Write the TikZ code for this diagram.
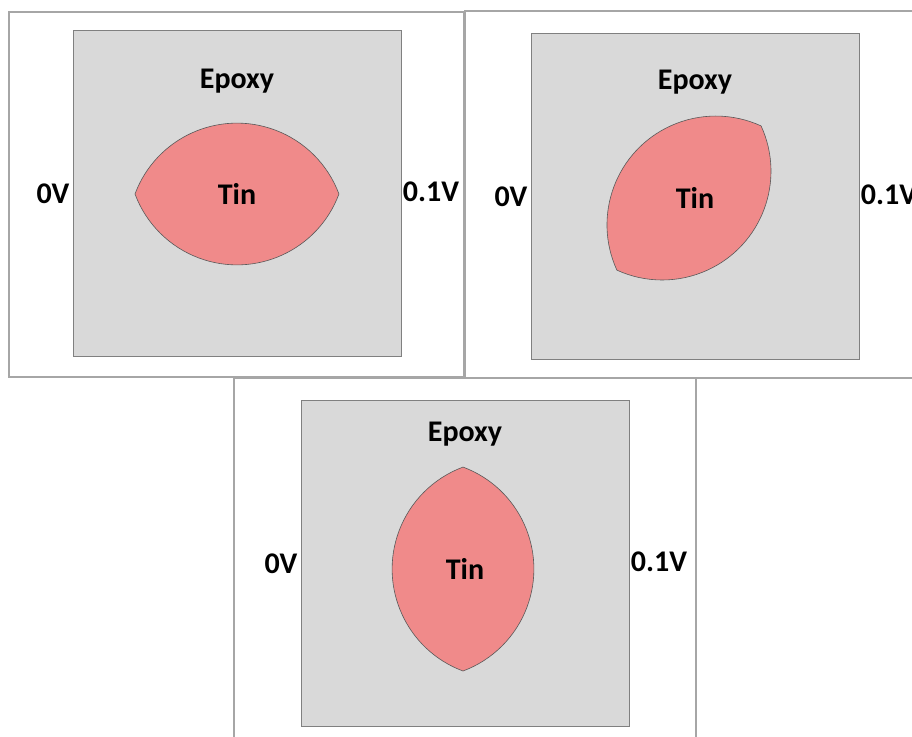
\documentclass[tikz,border=0pt]{standalone}
\usepackage{fontspec}
\setmainfont{Carlito}
\usetikzlibrary{positioning}

\definecolor{epoxygray}{RGB}{217,217,217}
\definecolor{tinred}{RGB}{240,138,138}
\definecolor{framegray}{RGB}{166,166,166}
\definecolor{edgegray}{RGB}{128,128,128}

% lens made of two circular arcs, centred at the origin
\newcommand{\lensshape}{(-102,0) arc[start angle=200.4, end angle=339.6, radius=108.8] arc[start angle=20.4, end angle=159.6, radius=108.8] -- cycle}

\begin{document}
\begin{tikzpicture}[x=1pt, y=-1pt,
	panelbox/.style={draw=framegray, line width=1.5pt},
	epoxybox/.style={draw=edgegray, fill=epoxygray, line width=0.8pt},
	tinbody/.style={draw=black!65, fill=tinred, line width=0.6pt},
	lbl/.style={font=\bfseries\fontsize{30}{32}\selectfont, inner sep=0pt}]
		\useasboundingbox (0,0) rectangle (912,736);
		\clip (0,0) rectangle (912,736);
		\fill[white] (0,0) rectangle (912,736);
		% outer frames
		\draw[panelbox] (9,12) rectangle (464,377);
		\draw[panelbox] (465,11) rectangle (920,378);
		\draw[panelbox] (234,378) rectangle (696,745);
		% square centre / epoxy label / lens centre / lens angle / name
		\foreach \cx/\cy/\ey/\lx/\ly/\ang/\n in {237/193/81/237/194/0/a, 695/196/82/689/198/45/b, 465/563/434/463/569/90/c}{
			\draw[epoxybox] (\cx-164,\cy-163) rectangle (\cx+164,\cy+163);
			\begin{scope}[shift={(\lx,\ly)}, rotate=\ang]
				\draw[tinbody] \lensshape;
			\end{scope}
			\node[lbl] (epoxy\n) at (\cx,\ey) {Epoxy};
			\node[lbl] (tin\n) at (\cx,\ly) {Tin};
			\node[lbl] (low\n) at (\cx-184,\cy+1) {0V};
			\node[lbl] (high\n) at (\cx+194,\cy-1) {0.1V};
		}
\end{tikzpicture}
\end{document}
